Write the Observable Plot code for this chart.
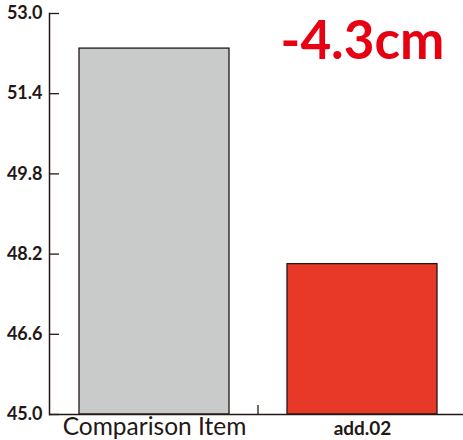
<!DOCTYPE html>
<html>
<head>
<meta charset="utf-8">
<script src="https://cdn.jsdelivr.net/npm/d3@7"></script>
<script src="https://cdn.jsdelivr.net/npm/@observablehq/plot@0.6"></script>
<style>
  html, body { margin: 0; padding: 0; background: #fff; }
  #chart svg { display: block; }
</style>
</head>
<body>
<div id="chart"></div>
<script>
// Items compared and their measured values (cm)
const categories = ["Comparison Item", "add.02"];
const values = [52.3, 48.0];
const barColors = ["#c9caca", "#e83828"];

// Value axis
const yDomain = [45.0, 53.0];
const yTicks = [45.0, 46.6, 48.2, 49.8, 51.4, 53.0];

const ink = "#231815";
const data = categories.map((c, i) => ({category: c, value: values[i], color: barColors[i]}));

// Difference shown above the second bar
const diff = values[1] - values[0];
const diffLabel = [{category: categories[1], text: `${diff.toFixed(1)}cm`}];

// Short upward tick on the baseline, halfway between the two bands
function divider(index, scales, chanValues, dimensions) {
  const x = scales.x;
  const bw = typeof x.bandwidth === "function" ? x.bandwidth() : (x.bandwidth ?? 0);
  const mid = (x(categories[0]) + bw + x(categories[1])) / 2;
  const y0 = scales.y(yDomain[0]);
  const g = d3.create("svg:g");
  g.append("line")
    .attr("x1", mid).attr("x2", mid)
    .attr("y1", y0).attr("y2", y0 - 9)
    .attr("stroke", ink).attr("stroke-width", 1.3);
  return g.node();
}

const plot = Plot.plot({
  width: 463,
  height: 440,
  marginLeft: 49,
  marginRight: 0,
  marginTop: 13,
  marginBottom: 26,
  style: {background: "#fff", color: ink},
  x: {domain: categories, paddingInner: 0.278, paddingOuter: 0.132, align: 0.536, label: null, axis: null},
  y: {domain: yDomain, label: null, axis: null},
  marks: [
    Plot.barY(data, {
      x: "category",
      y1: yDomain[0],
      y2: "value",
      fill: "color",
      stroke: ink,
      strokeWidth: 1.3
    }),
    // axis lines
    Plot.ruleY([yDomain[0]], {stroke: ink, strokeWidth: 1.6}),
    Plot.frame({anchor: "left", stroke: ink, strokeWidth: 1.5}),
    // y tick labels
    Plot.axisY({
      ticks: yTicks,
      tickSize: 0,
      tickPadding: 7,
      tickFormat: (d) => d.toFixed(1),
      label: null,
      fontSize: 18,
      fontWeight: "bold",
      fontFamily: "Lato",
      fill: ink
    }),
    // inward y ticks
    Plot.axisY({
      ticks: yTicks,
      tickSize: 10,
      dx: 10,
      tickFormat: () => "",
      label: null,
      stroke: ink,
      strokeWidth: 1.3
    }),
    // category labels
    Plot.axisX({
      ticks: [categories[0]],
      tickSize: 0,
      tickPadding: 3,
      label: null,
      fontSize: 24.5,
      fontFamily: "Lato",
      fill: ink
    }),
    Plot.axisX({
      ticks: [categories[1]],
      tickSize: 0,
      tickPadding: 7,
      label: null,
      fontSize: 19,
      fontWeight: "bold",
      fontFamily: "Lato",
      fill: ink
    }),
    Plot.ruleY([yDomain[0]], {render: divider}),
    // difference annotation
    Plot.text(diffLabel, {
      x: "category",
      text: "text",
      frameAnchor: "top",
      lineAnchor: "top",
      dy: 8,
      fontSize: 53,
      fontWeight: "bold",
      fontFamily: "Lato",
      fill: "#e60012"
    })
  ]
});

document.getElementById("chart").appendChild(plot);
</script>
</body>
</html>
